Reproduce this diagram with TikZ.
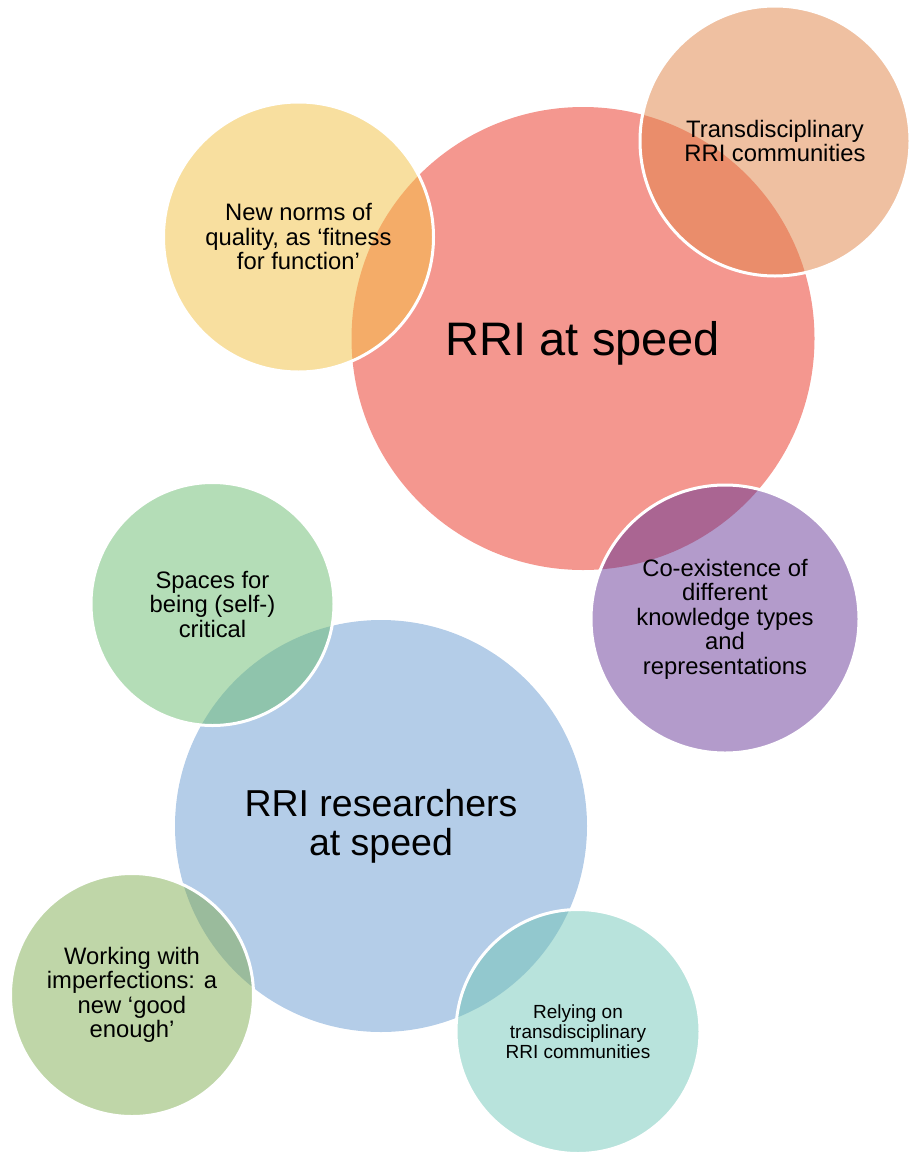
\documentclass[tikz,border=0pt]{standalone}
\usepackage{fontspec}
\setmainfont{Liberation Sans}
\definecolor{redc}{HTML}{F4978F}
\definecolor{bluec}{HTML}{B4CDE8}
\definecolor{yelc}{HTML}{F8DF9F}
\definecolor{yelov}{HTML}{F4AC68}
\definecolor{orac}{HTML}{EFC0A1}
\definecolor{oraov}{HTML}{EA8D6B}
\definecolor{purc}{HTML}{B39BCB}
\definecolor{purov}{HTML}{AA6592}
\definecolor{grnc}{HTML}{B4DDB7}
\definecolor{grnov}{HTML}{8FC4AC}
\definecolor{olic}{HTML}{BFD6A8}
\definecolor{oliov}{HTML}{9ABB9C}
\definecolor{teac}{HTML}{B8E3DC}
\definecolor{teaov}{HTML}{92C8CE}
\begin{document}
\begin{tikzpicture}[x=1pt,y=-1pt,
  bub/.style={circle, inner sep=0pt, outer sep=0pt, align=center, text=black},
  sat/.style={bub, draw=white, line width=3pt, font=\fontsize{23.8}{24.5}\selectfont},
]
\useasboundingbox (0,0) rectangle (918,1162);
% main circles
\node[bub, fill=redc, minimum size=463pt, text depth=0pt,
      font=\fontsize{47}{50}\selectfont] (rri) at (583,338.5) {RRI at speed};
\node[bub, fill=bluec, minimum size=412pt,
      font=\fontsize{37.5}{38.7}\selectfont] (res) at (381,826) {RRI researchers\\at speed};
% satellites around RRI at speed
\node[sat, fill=yelc, minimum size=270pt,
      path picture={\fill[yelov] (rri.center) circle[radius=231.5];}]
      (norms) at (298.5,237) {New norms of\\quality, as ‘fitness\\for function’};
\node[sat, fill=orac, minimum size=270pt,
      path picture={\fill[oraov] (rri.center) circle[radius=231.5];}]
      (trans) at (775,141) {Transdisciplinary\\RRI communities};
\node[sat, fill=purc, minimum size=268pt,
      path picture={\fill[purov] (rri.center) circle[radius=231.5];}]
      (coex) at (725,619) {Co-existence of\\different\\knowledge types\\and\\representations};
% satellites around RRI researchers at speed
\node[sat, fill=grnc, minimum size=243pt,
      path picture={\fill[grnov] (res.center) circle[radius=206];}]
      (spaces) at (212.5,604) {Spaces for\\being (self-)\\critical};
\node[sat, fill=olic, minimum size=243pt,
      path picture={\fill[oliov] (res.center) circle[radius=206];}]
      (imperf) at (132,995) {Working with\\imperfections: a\\new ‘good\\enough’};
\node[sat, fill=teac, minimum size=244pt, font=\fontsize{19}{20}\selectfont,
      path picture={\fill[teaov] (res.center) circle[radius=206];}]
      (rely) at (578,1031.5) {Relying on\\transdisciplinary\\RRI communities};
\end{tikzpicture}
\end{document}
